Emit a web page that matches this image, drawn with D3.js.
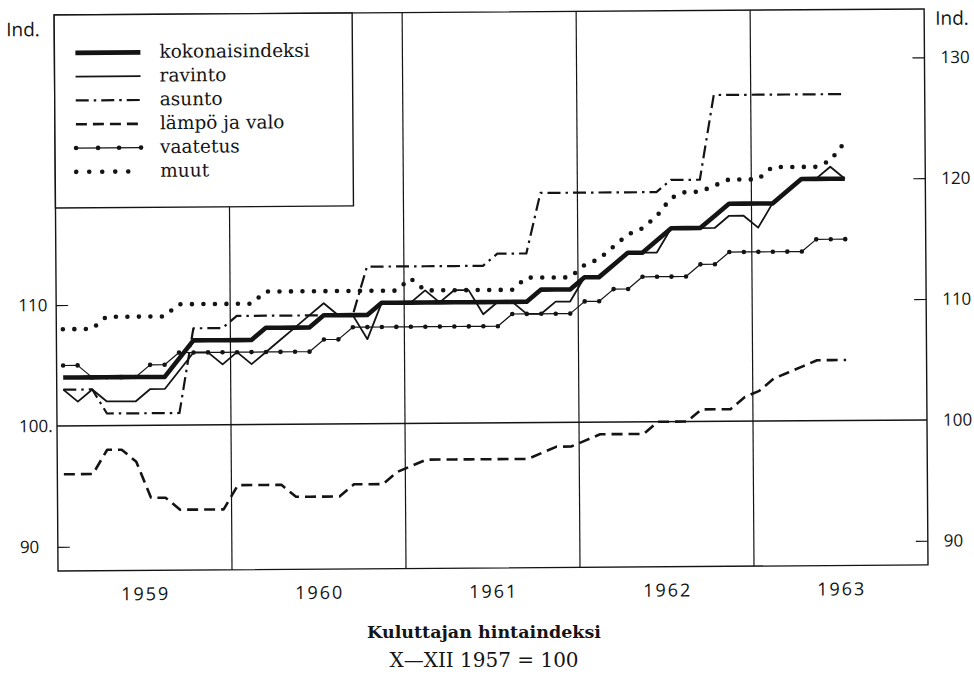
<!DOCTYPE html>
<html lang="fi">
<head>
<meta charset="utf-8">
<title>Kuluttajan hintaindeksi</title>
<script src="https://cdn.jsdelivr.net/npm/d3@7"></script>
<style>
  html, body { margin: 0; padding: 0; background: #fff; }
  svg { display: block; }
  .num { font-family: 'Open Sans', sans-serif; font-weight: 400; fill: #141414; }
  .legend text { font-family: 'DejaVu Serif', serif; font-size: 18.5px; fill: #141414; }
  .caption { font-family: 'DejaVu Serif', serif; fill: #141414; }
</style>
</head>
<body>
<svg id="chart"></svg>
<script>
'use strict';

// one value per month, I/1959 ... VII/1963
const kokonaisindeksi = [104,104,104,104,104,104,104,104,105.5,107,107,107,107,107,108,108,108,108,109,109,109,109,110,110,110,110,110,110,110,110,110,110,110,111,111,111,112,112,113,114,114,115,116,116,116,117,118,118,118,118,119,120,120,120,120];
const ravinto = [103,102,103,102,102,102,103,103,104.5,106,106,105,106,105,106,107,108,109,110,109,109,107,110,110,110,111,110,111,111,109,110,110,109,109,110,110,112,112,113,114,114,114,116,116,116,116,117,117,116,118,119,120,120,121,120];
const asunto = [103,103,103,101,101,101,101,101,101,108,108,108,109,109,109,109,109,109,109,109,109,113,113,113,113,113,113,113,113,113,114,114,114,119,119,119,119,119,119,119,119,119,120,120,120,127,127,127,127,127,127,127,127,127,127];
const lampoJaValo = [96,96,96,98,98,97,94,94,93,93,93,93,95,95,95,95,94,94,94,94,95,95,95,96,96.5,97,97,97,97,97,97,97,97,97.5,98,98,98.5,99,99,99,99,100,100,100,101,101,101,102,102.5,103.5,104,104.5,105,105,105];
const vaatetus = [105,105,104,104,104,104,105,105,106,106,106,106,106,106,106,106,106,106,107,107,108,108,108,108,108,108,108,108,108,108,108,109,109,109,109,109,110,110,111,111,112,112,112,112,113,113,114,114,114,114,114,114,115,115,115];
const muut = [108,108,108,109,109,109,109,109,110,110,110,110,110,110,111,111,111,111,111,111,111,111,111,111,112,111,111,111,111,111,111,111,112,112,112,112,113,113.5,114.5,115.5,116,117,118.5,119,119,119.5,120,120,120,121,121,121,121,121.5,123];

const years = ['1959', '1960', '1961', '1962', '1963'];
const leftTicks = [90, 100, 110];
const leftTickLabels = ['90', '100.', '110'];
const rightTicks = [90, 100, 110, 120, 130];

const W = 974, H = 677;
const plot = {left: 57, right: 927, top: 15, bottom: 571};

const svg = d3.select('#chart')
    .attr('width', W)
    .attr('height', H);

svg.append('rect')
    .attr('width', W)
    .attr('height', H)
    .attr('fill', '#fff');

// the printed page sits a little askew
const g = svg.append('g')
    .attr('transform', `rotate(-0.4 ${plot.left} 425)`);

const x = d3.scaleLinear()
    .domain([0, 60])
    .range([plot.left, plot.right]);

const y = d3.scaleLinear()
    .domain([88, 134])
    .range([plot.bottom, plot.top]);

const mx = i => x(i + 0.45);

const ink = '#141414';

// frame
g.append('rect')
    .attr('x', plot.left)
    .attr('y', plot.top)
    .attr('width', plot.right - plot.left)
    .attr('height', plot.bottom - plot.top)
    .attr('fill', 'none')
    .attr('stroke', ink)
    .attr('stroke-width', 1.4);

// legend box
const legendBox = {x0: plot.left, y0: plot.top, x1: 355, y1: 208};
g.append('rect')
    .attr('x', legendBox.x0)
    .attr('y', legendBox.y0)
    .attr('width', legendBox.x1 - legendBox.x0)
    .attr('height', legendBox.y1 - legendBox.y0)
    .attr('fill', '#fff')
    .attr('stroke', ink)
    .attr('stroke-width', 1.4);

// year dividers
g.selectAll('.year-line')
  .data([12, 24, 36, 48])
  .enter().append('line')
    .attr('class', 'year-line')
    .attr('x1', d => x(d))
    .attr('x2', d => x(d))
    .attr('y1', d => x(d) < legendBox.x1 ? legendBox.y1 : plot.top)
    .attr('y2', plot.bottom)
    .attr('stroke', ink)
    .attr('stroke-width', 1.2);

// base line 100
g.append('line')
    .attr('x1', plot.left)
    .attr('x2', plot.right)
    .attr('y1', y(100))
    .attr('y2', y(100))
    .attr('stroke', ink)
    .attr('stroke-width', 1.5);

// axes
const yAxisLeft = d3.axisLeft(y)
    .tickValues(leftTicks)
    .tickFormat((d, i) => leftTickLabels[i])
    .tickSize(-12)
    .tickSizeOuter(0)
    .tickPadding(16);

const yAxisRight = d3.axisRight(y)
    .tickValues(rightTicks)
    .tickSize(-12)
    .tickSizeOuter(0)
    .tickPadding(16);

const xAxis = d3.axisBottom(x)
    .tickValues([6, 18, 30, 42, 54])
    .tickFormat((d, i) => years[i])
    .tickSize(0)
    .tickPadding(17);

const left = g.append('g')
    .attr('transform', `translate(${plot.left}, 0)`)
    .call(yAxisLeft);
left.selectAll('text')
    .attr('text-anchor', 'start')
    .attr('x', -38);

const right = g.append('g')
    .attr('transform', `translate(${plot.right}, 0)`)
    .call(yAxisRight);

const bottom = g.append('g')
    .attr('transform', `translate(0, ${plot.bottom})`)
    .call(xAxis);
bottom.selectAll('text')
    .style('letter-spacing', '2px');

[left, right, bottom].forEach(a => {
  a.select('.domain').remove();
  a.selectAll('line').attr('stroke', ink).attr('stroke-width', 1.2);
  a.selectAll('text')
      .attr('class', 'num')
      .attr('fill', ink)
      .style('font-size', a === bottom ? '18px' : '17px');
});
left.selectAll('.tick').filter(d => d === 100).select('line').remove();
right.selectAll('.tick').filter(d => d === 100).select('line').remove();

g.append('text')
    .attr('class', 'num')
    .attr('x', 9)
    .attr('y', 36)
    .style('font-size', '19px')
    .text('Ind.');

g.append('text')
    .attr('class', 'num')
    .attr('x', 938)
    .attr('y', 31)
    .style('font-size', '19px')
    .text('Ind.');

// series
const styles = {
  kokonaisindeksi: {width: 4.6, dash: null, cap: 'butt'},
  ravinto: {width: 1.8, dash: null, cap: 'butt'},
  asunto: {width: 2.2, dash: '13,5,2.5,5', cap: 'butt'},
  lampo: {width: 2.6, dash: '11,6', cap: 'butt'},
  vaatetus: {width: 1.2, dash: null, cap: 'butt', dots: true},
  muut: {width: 4.6, dash: '0,11.5', cap: 'round'}
};

const series = [
  {key: 'lampo', label: 'lämpö ja valo', values: lampoJaValo},
  {key: 'asunto', label: 'asunto', values: asunto},
  {key: 'muut', label: 'muut', values: muut},
  {key: 'vaatetus', label: 'vaatetus', values: vaatetus},
  {key: 'ravinto', label: 'ravinto', values: ravinto},
  {key: 'kokonaisindeksi', label: 'kokonaisindeksi', values: kokonaisindeksi}
];

const line = d3.line()
    .x((d, i) => mx(i))
    .y(d => y(d));

series.forEach(s => {
  const st = styles[s.key];
  g.append('path')
      .datum(s.values)
      .attr('d', line)
      .attr('fill', 'none')
      .attr('stroke', ink)
      .attr('stroke-width', st.width)
      .attr('stroke-dasharray', st.dash)
      .attr('stroke-linecap', st.cap)
      .attr('stroke-linejoin', 'round');
  if (st.dots) {
    g.selectAll(null)
      .data(s.values)
      .enter().append('circle')
        .attr('cx', (d, i) => mx(i))
        .attr('cy', d => y(d))
        .attr('r', 2.3)
        .attr('fill', ink);
  }
});

// legend
const legendOrder = ['kokonaisindeksi', 'ravinto', 'asunto', 'lampo', 'vaatetus', 'muut'];
const legend = g.append('g').attr('class', 'legend');
legendOrder.forEach((key, i) => {
  const s = series.find(d => d.key === key);
  const st = styles[key];
  const ly = 53 + i * 23.8;
  legend.append('line')
      .attr('x1', 78)
      .attr('x2', 143)
      .attr('y1', ly)
      .attr('y2', ly)
      .attr('stroke', ink)
      .attr('stroke-width', st.width)
      .attr('stroke-dasharray', key === 'muut' ? '0,13' : st.dash)
      .attr('stroke-linecap', st.cap);
  if (st.dots) {
    legend.selectAll(null)
      .data([78, 100, 121, 143])
      .enter().append('circle')
        .attr('cx', d => d)
        .attr('cy', ly)
        .attr('r', 2.3)
        .attr('fill', ink);
  }
  legend.append('text')
      .attr('x', 162)
      .attr('y', ly + 5.5)
      .text(s.label);
});

// caption
svg.append('text')
    .attr('class', 'caption')
    .attr('x', 484)
    .attr('y', 638)
    .attr('text-anchor', 'middle')
    .attr('font-weight', 'bold')
    .attr('font-size', 17.5)
    .text('Kuluttajan hintaindeksi');

svg.append('text')
    .attr('class', 'caption')
    .attr('x', 484)
    .attr('y', 667)
    .attr('text-anchor', 'middle')
    .attr('font-size', 20)
    .text('X\u2014XII 1957 = 100');
</script>
</body>
</html>
